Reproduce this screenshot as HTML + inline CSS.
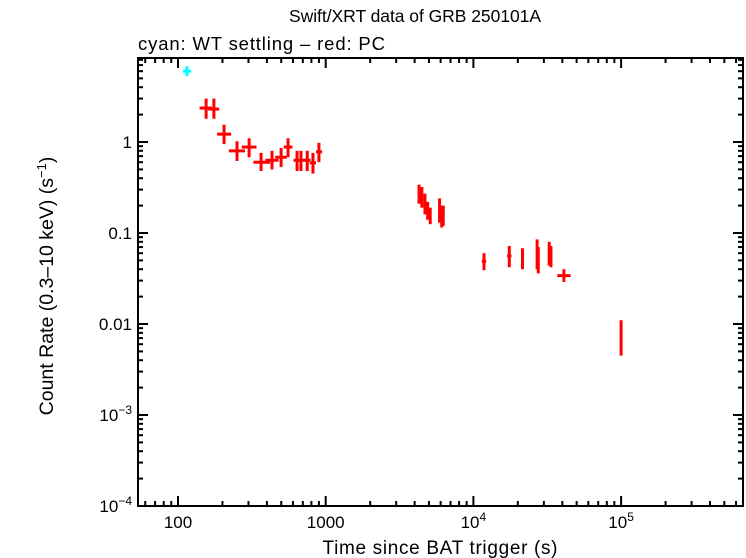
<!DOCTYPE html>
<html><head><meta charset="utf-8"><style>
body{margin:0;background:#fff}
svg{display:block;font-family:"Liberation Sans",sans-serif}
</style></head><body>
<svg id="chart" width="746" height="558">
<text x="415" y="22" font-size="17.5" text-anchor="middle" textLength="252">Swift/XRT data of GRB 250101A</text>
<text x="138" y="50" font-size="18.5" textLength="247">cyan: WT settling – red: PC</text>
<text x="440" y="554" font-size="19" text-anchor="middle" textLength="235">Time since BAT trigger (s)</text>
<text transform="translate(53,286) rotate(-90)" font-size="19.5" text-anchor="middle">Count Rate (0.3–10 keV) (s<tspan dy="-7" font-size="13">−1</tspan><tspan dy="7">)</tspan></text>
<g id="axes"></g><g id="marks"></g>
</svg>
<script>
const wtT=[115], wtTlo=[108], wtThi=[123], wtR=[6.0], wtRlo=[5.3], wtRhi=[6.8];
const pcT=[155,175,205,251,303,365,433,499,556,640,680,750,820,900,4285,4480,4700,4900,5100,5900,6100,6250,11800,17500,21500,27000,27500,32600,33500,41000,100000];
const pcTlo=[140,160,184,221,270,324,390,455,520,605,645,715,780,860,4200,4400,4620,4820,5020,5800,6000,6150,11400,16900,21000,26600,27100,32100,33000,37000,99000];
const pcThi=[170,190,229,284,340,420,480,545,595,680,720,790,860,945,4370,4560,4780,4980,5200,6000,6200,6350,12200,18100,22000,27400,27900,33100,34000,45500,101000];
const pcR=[2.36,2.3,1.22,0.8,0.88,0.60,0.63,0.68,0.88,0.63,0.63,0.63,0.59,0.78,0.275,0.25,0.21,0.18,0.154,0.175,0.15,0.155,0.049,0.056,0.053,0.065,0.05,0.06,0.055,0.034,0.0072];
const pcRlo=[1.8,1.8,0.95,0.62,0.68,0.48,0.5,0.53,0.68,0.48,0.48,0.48,0.45,0.6,0.21,0.19,0.16,0.14,0.125,0.13,0.115,0.12,0.039,0.042,0.04,0.04,0.036,0.044,0.042,0.029,0.0045];
const pcRhi=[3.0,3.0,1.55,1.02,1.1,0.76,0.8,0.86,1.1,0.8,0.8,0.8,0.76,0.98,0.34,0.32,0.27,0.22,0.19,0.24,0.2,0.2,0.06,0.072,0.068,0.085,0.07,0.08,0.072,0.04,0.011];
const xTickVals=[100,1000,10000,100000];
const xTickLabels=["100","1000","10^4","10^5"];
const yTickVals=[1e-4,1e-3,0.01,0.1,1];
const yTickLabels=["10^−4","10^−3","0.01","0.1","1"];
const L=138,R=743,T=58,B=506;
const X=t=>178+147.7*Math.log10(t/100);
const Y=r=>142-91*Math.log10(r);
const NS="http://www.w3.org/2000/svg";
function mk(p,tag,a){const e=document.createElementNS(NS,tag);for(const k in a)e.setAttribute(k,a[k]);p.appendChild(e);return e;}
const ax=document.getElementById('axes'),mg=document.getElementById('marks');
const frame=mk(ax,'rect',{x:L,y:T,width:R-L,height:B-T,fill:'none',stroke:'#000','stroke-width':2});


function lbl(g,x,y,s,anchor){
  const t=mk(g,'text',{x:x,y:y,'font-size':17,'text-anchor':anchor});
  const m=s.split('^');t.textContent=m[0];
  if(m[1]){const sp=mk(t,'tspan',{dy:-7,'font-size':12});sp.textContent=m[1];}
  return t;
}
for(let d=1;d<=5;d++){for(let k=1;k<10;k++){const v=Math.pow(10,d)*k;const x=X(v);if(x<L||x>R)continue;
  const len=k===1?10:5;
  mk(ax,'line',{x1:x,x2:x,y1:B,y2:B-len,stroke:'#000','stroke-width':2});
  mk(ax,'line',{x1:x,x2:x,y1:T,y2:T+len,stroke:'#000','stroke-width':2});}}
for(let d=-4;d<=0;d++){for(let k=1;k<10;k++){const v=Math.pow(10,d)*k;const y=Y(v);if(y<T||y>B)continue;
  const len=k===1?10:5;
  mk(ax,'line',{x1:L,x2:L+len,y1:y,y2:y,stroke:'#000','stroke-width':2});
  mk(ax,'line',{x1:R,x2:R-len,y1:y,y2:y,stroke:'#000','stroke-width':2});}}
xTickVals.forEach((v,i)=>{const t=lbl(ax,X(v),528,xTickLabels[i],'middle');
  
  });
yTickVals.forEach((v,i)=>{const t=lbl(ax,L-6,Y(v)+6,yTickLabels[i],'end');
  
  });
function pt(t,tl,th,r,rl,rh,col,name){
  const g=mk(mg,'g',{stroke:col,'stroke-width':3});
  
  
  mk(g,'line',{x1:X(tl),x2:X(th),y1:Y(r),y2:Y(r)});
  mk(g,'line',{x1:X(t),x2:X(t),y1:Y(rl),y2:Y(rh)});
}
wtT.forEach((t,i)=>pt(t,wtTlo[i],wtThi[i],wtR[i],wtRlo[i],wtRhi[i],'#00ffff','wt-point'));
pcT.forEach((t,i)=>pt(t,pcTlo[i],pcThi[i],pcR[i],pcRlo[i],pcRhi[i],'#ff0000','pc-point'));
</script>
</body></html>
